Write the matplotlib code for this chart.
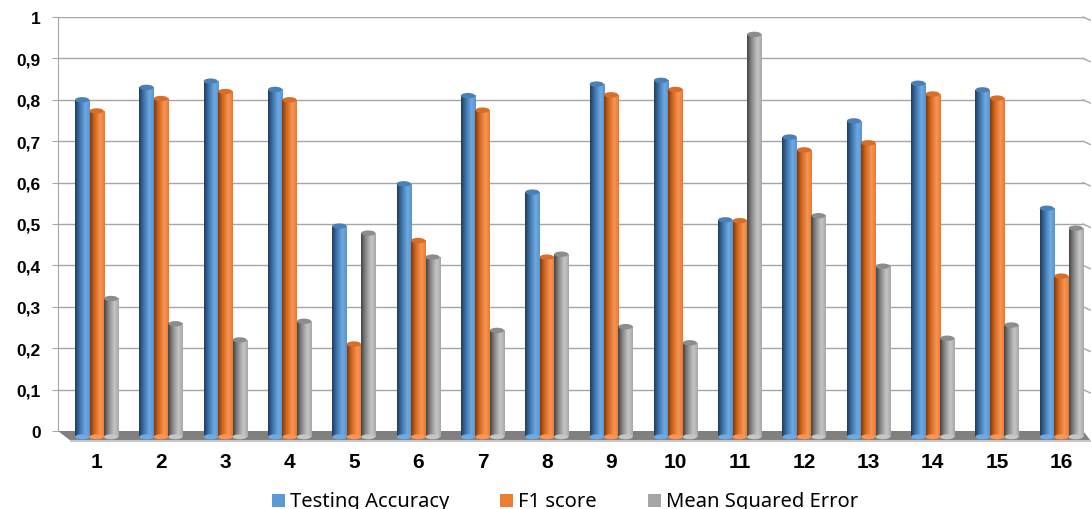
import numpy as np
import matplotlib.pyplot as plt
from matplotlib.colors import LinearSegmentedColormap
from matplotlib.patches import Ellipse, Polygon, Rectangle

# Results per model run
models = [str(i) for i in range(1, 17)]
testing_accuracy = [0.80, 0.83, 0.845, 0.825, 0.495, 0.597, 0.81, 0.577,
                    0.838, 0.847, 0.51, 0.71, 0.749, 0.84, 0.824, 0.538]
f1_score = [0.773, 0.803, 0.82, 0.80, 0.21, 0.46, 0.775, 0.42,
            0.812, 0.825, 0.508, 0.679, 0.696, 0.814, 0.804, 0.374]
mean_squared_error = [0.32, 0.259, 0.22, 0.265, 0.478, 0.42, 0.243, 0.427,
                      0.252, 0.213, 0.958, 0.52, 0.398, 0.224, 0.256, 0.49]
series_names = ['Testing Accuracy', 'F1 score', 'Mean Squared Error']
yticks = [0, 0.1, 0.2, 0.3, 0.4, 0.5, 0.6, 0.7, 0.8, 0.9, 1]
ytick_labels = ['0', '0,1', '0,2', '0,3', '0,4', '0,5', '0,6', '0,7', '0,8', '0,9', '1']

# cylinder shading: dark left edge, highlight right of centre
shades = [
    (['#203d5c', '#3c70a6', '#6eaae4', '#5a94cd'], '#4a80b8', '#5b9bd5'),
    (['#83390a', '#d0661f', '#f99555', '#e8792f'], '#d66d28', '#ed7d31'),
    (['#444444', '#868686', '#c6c6c6', '#a8a8a8'], '#8c8c8c', '#a5a5a5'),
]

plt.rcParams['font.family'] = ['Noto Sans', 'DejaVu Sans']
fig = plt.figure(figsize=(10.91, 5.10), dpi=100)
ax = fig.add_axes([58 / 1091, 78 / 510, 1029 / 1091, 414 / 510])
x_lo, x_hi = -0.6, 15.4
ax.set_xlim(x_lo, x_hi)
ax.set_ylim(0, 1)

grid_c = '#a6a6a6'
for v in yticks[1:]:
    ax.plot([x_lo, x_hi - 0.06], [v, v], color=grid_c, lw=1, zorder=1)
    ax.plot([x_hi - 0.06, x_hi + 0.05], [v, v - 0.008], color=grid_c, lw=1,
            zorder=1, clip_on=False)

# floor of the plot
floor = Polygon([(x_lo, 0), (x_hi - 0.06, 0), (x_hi + 0.06, -0.024), (x_lo + 0.2, -0.024)],
                closed=True, facecolor='#808080', edgecolor='none', zorder=2, clip_on=False)
ax.add_patch(floor)
ax.plot([x_lo + 0.2, x_hi + 0.06], [-0.024, -0.024], color='#c8c8c8', lw=1.5,
        zorder=2, clip_on=False)

width = 0.22
offsets = [-0.225, 0.0, 0.225]
grad = np.linspace(0, 1, 60)[None, :]
data = [testing_accuracy, f1_score, mean_squared_error]
for s, (vals, off) in enumerate(zip(data, offsets)):
    stops, cap_c, base_c = shades[s]
    cmap = LinearSegmentedColormap.from_list('c%d' % s, list(zip([0, 0.3, 0.7, 1], stops)))
    for i, v in enumerate(vals):
        x0 = i + off - width / 2
        ax.imshow(grad, cmap=cmap, aspect='auto', extent=[x0, x0 + width, -0.014, v],
                  zorder=3, interpolation='bilinear', clip_on=False)
        ax.add_patch(Ellipse((i + off, -0.014), width, 0.012, facecolor=stops[2],
                             edgecolor='none', zorder=3, clip_on=False))
        ax.add_patch(Ellipse((i + off, v), width, 0.013, facecolor=cap_c,
                             edgecolor='none', zorder=4, clip_on=False))
ax.set_xlim(x_lo, x_hi)
ax.set_ylim(0, 1)

for sp in ['top', 'right', 'bottom']:
    ax.spines[sp].set_visible(False)
ax.spines['left'].set_color(grid_c)
ax.set_yticks(yticks)
ax.set_yticklabels(ytick_labels, fontsize=12.5, fontweight='bold',
                   family=['Liberation Sans', 'DejaVu Sans'])
ax.tick_params(axis='y', length=4.3, color=grid_c, pad=8)
ax.set_xticks(range(len(models)))
ax.set_xticklabels(models, fontsize=15, fontweight='bold',
                   family=['Liberation Sans', 'DejaVu Sans'])
ax.tick_params(axis='x', length=0, pad=15)

# legend along the bottom
legend_x = [272, 500, 648]
for name, (stops, cap_c, base_c), lx in zip(series_names, shades, legend_x):
    fig.patches.append(Rectangle((lx / 1091, 2 / 510), 13 / 1091, 13 / 510,
                                 transform=fig.transFigure, facecolor=base_c,
                                 edgecolor='none'))
    fig.text((lx + 18) / 1091, 8 / 510, name, fontsize=14.5, va='center', ha='left')

fig.savefig('out.png', dpi=100)
